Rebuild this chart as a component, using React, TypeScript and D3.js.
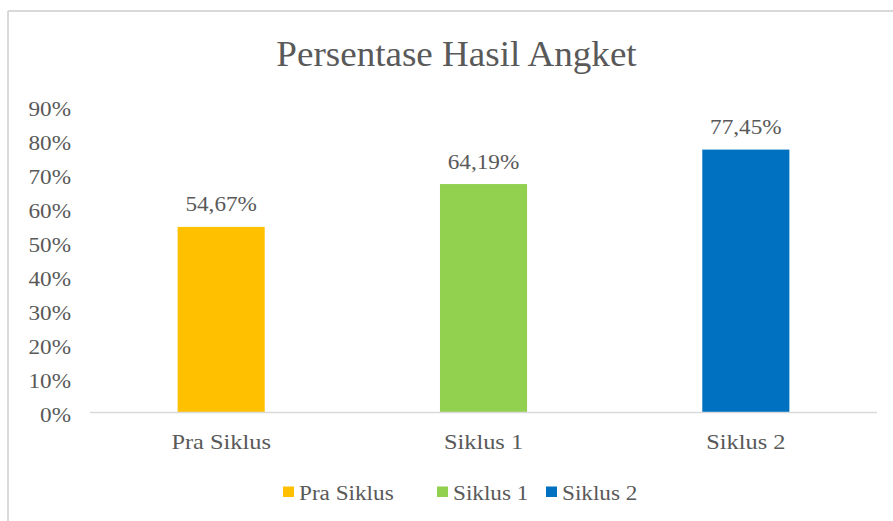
import React from "react";
import * as d3 from "d3";

const categories = ["Pra Siklus", "Siklus 1", "Siklus 2"];
// bar heights as drawn in the picture (percent)
const barValues = [54.67, 67.3, 77.45];
// data labels as printed in the picture
const barLabels = ["54,67%", "64,19%", "77,45%"];
const colors = ["#FFC000", "#92D050", "#0070C0"];
const yTicks = [0, 10, 20, 30, 40, 50, 60, 70, 80, 90];
const title = "Persentase Hasil Angket";

const W = 893;
const H = 521;
const plot = { left: 90, right: 877, top: 107, bottom: 412.5 };
const FONT = "'Liberation Serif', 'Times New Roman', serif";
const TXT = "#595959";
const SX = 1.16;

export default function App() {
  const x = d3
    .scaleBand<string>()
    .domain(categories)
    .range([plot.left, plot.right])
    .paddingInner(0.668)
    .paddingOuter(0.334);
  const y = d3.scaleLinear().domain([0, 90]).range([plot.bottom, plot.top]);

  const legendX = [283, 437, 546];

  const T = (
    key: string | number,
    tx: number,
    ty: number,
    s: string,
    anchor: "start" | "middle" | "end",
    size: number,
    sx = SX
  ) => (
    <text
      key={key}
      transform={`translate(${tx},${ty}) scale(${sx},1)`}
      textAnchor={anchor}
      fontSize={size}
      fontFamily={FONT}
      fill={TXT}
    >
      {s}
    </text>
  );

  return (
    <div style={{ position: "absolute", left: 0, top: 0 }}>
      <svg width={W} height={H} style={{ display: "block", background: "#fff" }}>
        {/* chart area border (left/top visible) */}
        <line x1={8} y1={11} x2={W} y2={11} stroke="#d9d9d9" strokeWidth={2} />
        <line x1={8} y1={11} x2={8} y2={H} stroke="#d9d9d9" strokeWidth={2} />

        {/* title */}
        {T("title", 456.5, 66, title, "middle", 36, 1.03)}

        {/* y tick labels */}
        {yTicks.map((t) => T(`yt${t}`, 71, y(t) + 9, `${t}%`, "end", 20))}

        {/* bars */}
        {categories.map((c, i) => (
          <rect
            key={c}
            x={x(c)!}
            y={y(barValues[i])}
            width={x.bandwidth()}
            height={y(0) - y(barValues[i])}
            fill={colors[i]}
          />
        ))}

        {/* baseline */}
        <line
          x1={plot.left}
          x2={plot.right}
          y1={plot.bottom}
          y2={plot.bottom}
          stroke="#d9d9d9"
          strokeWidth={1.5}
        />

        {/* data labels */}
        {categories.map((c, i) =>
          T(`dl${i}`, x(c)! + x.bandwidth() / 2, y(barValues[i]) - 15.5, barLabels[i], "middle", 20)
        )}

        {/* category labels */}
        {categories.map((c) => T(`cl${c}`, x(c)! + x.bandwidth() / 2, 448.5, c, "middle", 21))}

        {/* legend */}
        {categories.map((c, i) => (
          <g key={`lg${c}`}>
            <rect x={legendX[i]} y={486.5} width={11} height={10.5} fill={colors[i]} />
            {T(`lt${c}`, legendX[i] + 16, 500, c, "start", 20)}
          </g>
        ))}
      </svg>
    </div>
  );
}
